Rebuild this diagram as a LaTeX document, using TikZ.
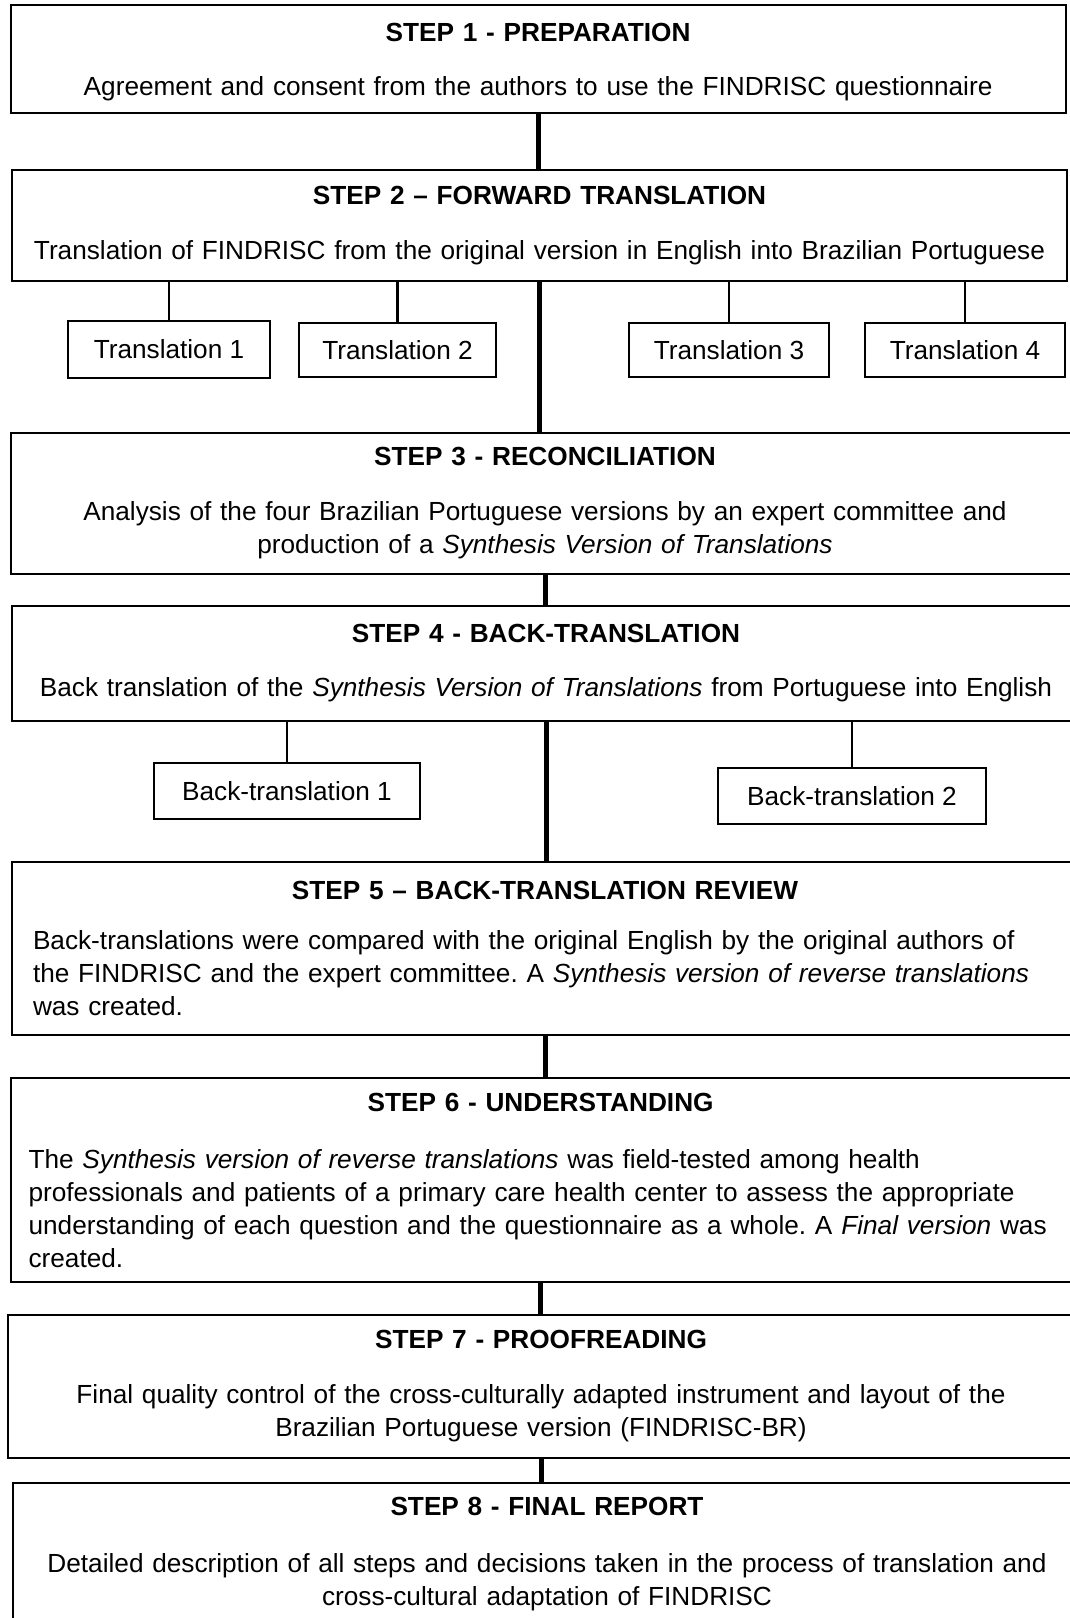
\documentclass[tikz,border=0pt]{standalone}
\usepackage{fontspec}
\setmainfont{Liberation Sans}
\frenchspacing

\begin{document}
\begin{tikzpicture}[x=1pt,y=-1pt]
 \tikzstyle{stepbox}=[rectangle,draw,line width=2pt,anchor=north west,inner xsep=0pt,inner ysep=0pt,font=\fontsize{26.2}{33}\selectfont,align=center]
 \tikzstyle{subbox}=[rectangle,draw,line width=2pt,inner sep=0pt,font=\fontsize{26.2}{33}\selectfont]
 \tikzstyle{spine}=[line width=5pt]
 \tikzstyle{branch}=[line width=2.5pt]
 \useasboundingbox (0,0) rectangle (1070,1618);
 %
 \node[stepbox, minimum width=1055pt, minimum height=108pt, text width=1055pt] (S1) at (9.6,4) {\rule{0pt}{24pt}\textbf{STEP 1 - PREPARATION}\\[21pt] Agreement and consent from the authors to use the FINDRISC questionnaire};
 \node[stepbox, minimum width=1055pt, minimum height=111pt, text width=1055pt] (S2) at (11,169) {\textbf{STEP 2 -- FORWARD TRANSLATION}\\[22pt] Translation of FINDRISC from the original version in English into Brazilian Portuguese};
 \node[subbox, minimum width=202pt, minimum height=57pt] (T1) at (169,349.5) {Translation 1};
 \node[subbox, minimum width=197pt, minimum height=54pt] (T2) at (397.5,350) {Translation 2};
 \node[subbox, minimum width=200pt, minimum height=54pt] (T3) at (729,350) {Translation 3};
 \node[subbox, minimum width=200pt, minimum height=54pt] (T4) at (965,350) {Translation 4};
 \node[stepbox, minimum width=1068pt, minimum height=141pt, text width=1068pt] (S3) at (10,432) {\textbf{STEP 3 - RECONCILIATION}\\[22pt] Analysis of the four Brazilian Portuguese versions by an expert committee and\\ production of a \textit{Synthesis Version of Translations}};
 \node[stepbox, minimum width=1068pt, minimum height=115pt, text width=1068pt] (S4) at (11,605) {\textbf{STEP 4 - BACK-TRANSLATION}\\[21pt] Back translation of the \textit{Synthesis Version of Translations} from Portuguese into English};
 \node[subbox, minimum width=266pt, minimum height=56pt] (B1) at (287,791) {Back-translation 1};
 \node[subbox, minimum width=268pt, minimum height=56pt] (B2) at (852,796) {Back-translation 2};
 \node[stepbox, align=left, inner xsep=21pt, minimum width=1066pt, minimum height=173pt, text width=1024pt] (S5) at (11,861) {\makebox[1024pt][c]{\textbf{STEP 5 -- BACK-TRANSLATION REVIEW}}\\[17pt] Back-translations were compared with the original English by the original authors of\\ the FINDRISC and the expert committee. A \textit{Synthesis version of reverse translations}\\ was created.};
 \node[stepbox, align=left, inner xsep=18pt, minimum width=1060pt, minimum height=204pt, text width=1024pt] (S6) at (9.6,1077) {\makebox[1024pt][c]{\textbf{STEP 6 - UNDERSTANDING}}\\[24pt] The \textit{Synthesis version of reverse translations} was field-tested among health\\ professionals and patients of a primary care health center to assess the appropriate\\ understanding of each question and the questionnaire as a whole. A \textit{Final version} was\\ created.};
 \node[stepbox, minimum width=1066pt, minimum height=143pt, text width=1066pt] (S7) at (7,1314) {\textbf{STEP 7 - PROOFREADING}\\[22pt] Final quality control of the cross-culturally adapted instrument and layout of the\\ Brazilian Portuguese version (FINDRISC-BR)};
 \node[stepbox, minimum width=1068pt, minimum height=143pt, text width=1068pt] (S8) at (12,1482) {\textbf{STEP 8 - FINAL REPORT}\\[24pt] Detailed description of all steps and decisions taken in the process of translation and\\ cross-cultural adaptation of FINDRISC};
 %
 \draw[spine] (S1.south) -- (S1.south |- S2.north);
 \draw[spine] (S2.south) -- (S2.south |- S3.north);
 \draw[spine] (S3.south) -- (S3.south |- S4.north);
 \draw[spine] (S4.south) -- (S4.south |- S5.north);
 \draw[spine] (S5.south) -- (S5.south |- S6.north);
 \draw[spine] (S6.south) -- (S6.south |- S7.north);
 \draw[spine] (S7.south) -- (S7.south |- S8.north);
 \draw[branch] (T1.north) -- (T1.north |- S2.south);
 \draw[branch] (T2.north) -- (T2.north |- S2.south);
 \draw[branch] (T3.north) -- (T3.north |- S2.south);
 \draw[branch] (T4.north) -- (T4.north |- S2.south);
 \draw[branch] (B1.north) -- (B1.north |- S4.south);
 \draw[branch] (B2.north) -- (B2.north |- S4.south);
\end{tikzpicture}
\end{document}
